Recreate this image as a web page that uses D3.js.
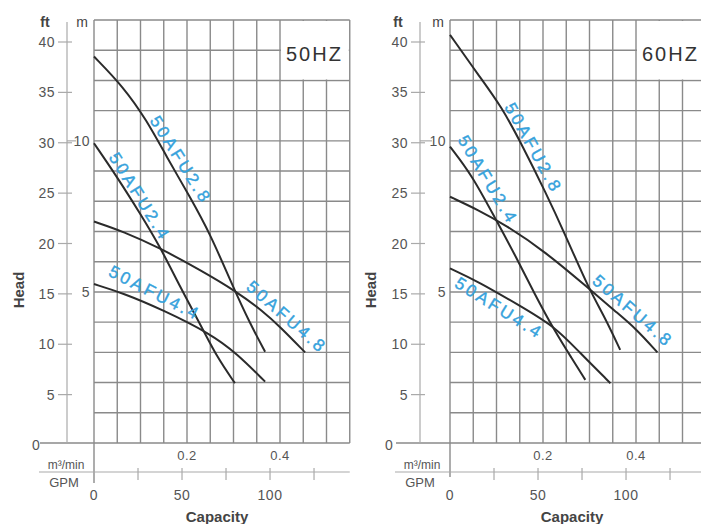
<!DOCTYPE html>
<html>
<head>
<meta charset="utf-8">
<script src="https://cdn.jsdelivr.net/npm/d3@7"></script>
<style>
  body { margin: 0; background: #fff; }
  svg { display: block; font-family: "Liberation Sans", Arial, sans-serif; }
</style>
</head>
<body>
<div id="chart"></div>
<script>
// pump curves, flow in m³/min, head in m
const models = ["50AFU2.8", "50AFU2.4", "50AFU4.8", "50AFU4.4"];

const q50_28 = [0, 0.063, 0.113, 0.156, 0.206, 0.249, 0.299, 0.335, 0.368];
const h50_28 = [12.79, 11.79, 10.69, 9.48, 8.15, 6.95, 5.17, 3.97, 3.02];
const q50_24 = [0, 0.049, 0.099, 0.142, 0.185, 0.235, 0.264, 0.303];
const h50_24 = [9.92, 8.82, 7.60, 6.50, 5.17, 3.74, 2.86, 1.98];
const q50_48 = [0, 0.063, 0.142, 0.228, 0.307, 0.364, 0.4, 0.454];
const h50_48 = [7.33, 7.0, 6.45, 5.73, 5.01, 4.35, 3.85, 3.0];
const q50_44 = [0, 0.063, 0.149, 0.249, 0.307, 0.368];
const h50_44 = [5.26, 4.96, 4.40, 3.63, 2.97, 2.03];

const q60_28 = [0, 0.061, 0.111, 0.155, 0.205, 0.248, 0.298, 0.334, 0.366];
const h60_28 = [13.51, 12.18, 11.13, 9.86, 8.32, 6.89, 5.12, 4.13, 3.08];
const q60_24 = [0, 0.047, 0.097, 0.140, 0.183, 0.226, 0.262, 0.291];
const h60_24 = [9.81, 8.87, 7.44, 6.22, 4.90, 3.68, 2.80, 2.09];
const q60_48 = [0, 0.061, 0.119, 0.205, 0.298, 0.356, 0.399, 0.446];
const h60_48 = [8.15, 7.71, 7.22, 6.33, 5.12, 4.35, 3.80, 3.0];
const q60_44 = [0, 0.061, 0.147, 0.226, 0.277, 0.345];
const h60_44 = [5.78, 5.34, 4.57, 3.85, 3.02, 1.98];

// where the model names sit (flow, head)
const labelQ50 = [0.187, 0.099, 0.415, 0.131];
const labelH50 = [9.37, 8.15, 4.17, 4.97];
const labelQ60 = [0.18, 0.082, 0.394, 0.106];
const labelH60 = [9.76, 8.71, 4.37, 4.47];

const ftTicks = [5, 10, 15, 20, 25, 30, 35, 40];
const mLabels = [5, 10];
const qLabels = [0.2, 0.4];
const gpmTicks = [25, 50, 75, 100, 125];
const gpmLabels = [0, 50, 100];

const width = 701, height = 524;
const gridColor = "#8a8a8a";
const textColor = "#555";

const svg = d3.select("#chart").append("svg")
    .attr("width", width)
    .attr("height", height);

function zip(q, h) { return q.map((d, i) => [d, h[i]]); }

function drawPanel(props) {
    const g = svg.append("g");
    const x = d3.scaleLinear().domain([0, 0.55]).range([props.gridLeft, props.gridLeft + 0.55 * 465]);
    const xGpm = d3.scaleLinear().domain([0, 0.55 * 264.17]).range(x.range());
    const yM = d3.scaleLinear().domain([0, 14]).range([443, 20]);
    const yFt = d3.scaleLinear().domain([0, 40]).range([445, 42]);
    const right = x(0.55);

    // grid
    g.selectAll(".hgrid").data(d3.range(0, 15)).enter().append("line")
        .attr("x1", d => d === 0 ? props.gridLeft - 54 : props.gridLeft)
        .attr("x2", right)
        .attr("y1", d => yM(d)).attr("y2", d => yM(d))
        .attr("stroke", gridColor).attr("stroke-width", 1.4);
    g.selectAll(".vgrid").data(d3.range(0, 12).map(i => i * 0.05)).enter().append("line")
        .attr("x1", d => x(d)).attr("x2", d => x(d))
        .attr("y1", yM(14))
        .attr("y2", (d, i) => i === 0 ? props.leftBottom : yM(0))
        .attr("stroke", gridColor).attr("stroke-width", 1.4);

    // title box
    g.append("rect")
        .attr("x", x(0.4) + 1).attr("y", yM(14) + 1)
        .attr("width", x(0.55) - x(0.4) - 2)
        .attr("height", yM(12) - yM(14) - 2)
        .attr("fill", "#fff");
    g.append("text")
        .attr("x", x(0.4) + 6).attr("y", 61)
        .attr("font-size", 20)
        .attr("letter-spacing", 2)
        .attr("fill", "#333")
        .text(props.hz);

    // ft axis
    g.append("line")
        .attr("x1", props.ftAxisX).attr("x2", props.ftAxisX)
        .attr("y1", 22).attr("y2", yM(0))
        .attr("stroke", "#aaa").attr("stroke-width", 1.2);
    g.selectAll(".fttick").data(ftTicks).enter().append("line")
        .attr("x1", props.ftAxisX - 9).attr("x2", props.ftAxisX + 5)
        .attr("y1", d => yFt(d)).attr("y2", d => yFt(d))
        .attr("stroke", "#aaa").attr("stroke-width", 1.2);
    g.selectAll(".ftlab").data(ftTicks).enter().append("text")
        .attr("x", props.ftAxisX - 12)
        .attr("y", d => yFt(d) + 5)
        .attr("text-anchor", "end")
        .attr("font-size", 14).attr("letter-spacing", 0.5)
        .attr("fill", textColor)
        .text(d => d);
    g.append("text")
        .attr("x", props.ftAxisX - 31).attr("y", yM(0) + 7)
        .attr("text-anchor", "middle")
        .attr("font-size", 14).attr("fill", textColor)
        .text("0");
    g.append("text")
        .attr("x", props.ftAxisX - 22).attr("y", 27)
        .attr("text-anchor", "middle")
        .attr("font-size", 14).attr("font-weight", "bold").attr("fill", "#444")
        .text("ft");
    g.append("text")
        .attr("x", props.gridLeft - 12).attr("y", 27)
        .attr("text-anchor", "middle")
        .attr("font-size", 14).attr("fill", "#444")
        .text("m");

    // m axis labels
    g.selectAll(".mlink").data(mLabels.filter(d => d === 10)).enter().append("line")
        .attr("x1", props.ftAxisX).attr("x2", props.gridLeft - 18)
        .attr("y1", d => yM(d)).attr("y2", d => yM(d))
        .attr("stroke", "#aaa").attr("stroke-width", 1.2);
    g.selectAll(".mlab").data(mLabels).enter().append("text")
        .attr("x", props.gridLeft - 4)
        .attr("y", d => yM(d) + 5)
        .attr("text-anchor", "end")
        .attr("font-size", 14).attr("letter-spacing", 0.5)
        .attr("fill", textColor)
        .text(d => d);

    g.append("text")
        .attr("transform", `translate(${props.headX},290) rotate(-90)`)
        .attr("text-anchor", "middle")
        .attr("font-size", 15).attr("font-weight", "bold").attr("fill", "#444")
        .text("Head");

    // capacity axes
    g.selectAll(".qlab").data(qLabels).enter().append("text")
        .attr("x", d => x(d)).attr("y", 460)
        .attr("text-anchor", "middle")
        .attr("font-size", 13).attr("letter-spacing", 0.5)
        .attr("fill", textColor)
        .text(d => d);
    g.append("text")
        .attr("x", props.gridLeft - 28).attr("y", 469)
        .attr("text-anchor", "middle")
        .attr("font-size", 12).attr("fill", textColor)
        .text("m³/min");
    g.append("line")
        .attr("x1", props.gridLeft - 55).attr("x2", right)
        .attr("y1", 472).attr("y2", 472)
        .attr("stroke", "#aaa").attr("stroke-width", 1.2);
    g.selectAll(".gtick").data(gpmTicks).enter().append("line")
        .attr("x1", d => xGpm(d)).attr("x2", d => xGpm(d))
        .attr("y1", 468).attr("y2", 480)
        .attr("stroke", "#aaa").attr("stroke-width", 1.2);
    g.append("text")
        .attr("x", props.gridLeft - 30).attr("y", 487)
        .attr("text-anchor", "middle")
        .attr("font-size", 13).attr("fill", textColor)
        .text("GPM");
    g.selectAll(".glab").data(gpmLabels).enter().append("text")
        .attr("x", d => xGpm(d)).attr("y", 500)
        .attr("text-anchor", "middle")
        .attr("font-size", 14).attr("letter-spacing", 0.5)
        .attr("fill", textColor)
        .text(d => d);
    g.append("text")
        .attr("x", props.capX).attr("y", 522)
        .attr("text-anchor", "middle")
        .attr("font-size", 15).attr("font-weight", "bold").attr("fill", "#444")
        .text("Capacity");

    // curves
    const line = d3.line()
        .x(d => x(d[0])).y(d => yM(d[1]))
        .curve(d3.curveBasis);
    props.curves.forEach(c => {
        g.append("path")
            .attr("d", line(c))
            .attr("fill", "none")
            .attr("stroke", "#2b2b2b")
            .attr("stroke-width", 2);
    });

    // model names
    models.forEach((name, i) => {
        g.append("text")
            .attr("transform", `translate(${x(props.labelQ[i])},${yM(props.labelH[i])}) rotate(${props.angles[i]})`)
            .attr("text-anchor", "middle")
            .attr("dy", "0.35em")
            .attr("font-size", 17)
            .attr("letter-spacing", 3)
            .attr("fill", "#36a2dc")
            .attr("stroke", "#36a2dc")
            .attr("stroke-width", 0.4)
            .text(name);
    });
}

drawPanel({
    gridLeft: 94, ftAxisX: 67, leftBottom: 483, headX: 24, capX: 217, hz: "50HZ",
    curves: [zip(q50_28, h50_28), zip(q50_24, h50_24), zip(q50_48, h50_48), zip(q50_44, h50_44)],
    labelQ: labelQ50, labelH: labelH50, angles: [58, 58, 41, 27]
});
drawPanel({
    gridLeft: 450, ftAxisX: 420, leftBottom: 477, headX: 376, capX: 572, hz: "60HZ",
    curves: [zip(q60_28, h60_28), zip(q60_24, h60_24), zip(q60_48, h60_48), zip(q60_44, h60_44)],
    labelQ: labelQ60, labelH: labelH60, angles: [61, 59, 41, 32]
});
</script>
</body>
</html>
